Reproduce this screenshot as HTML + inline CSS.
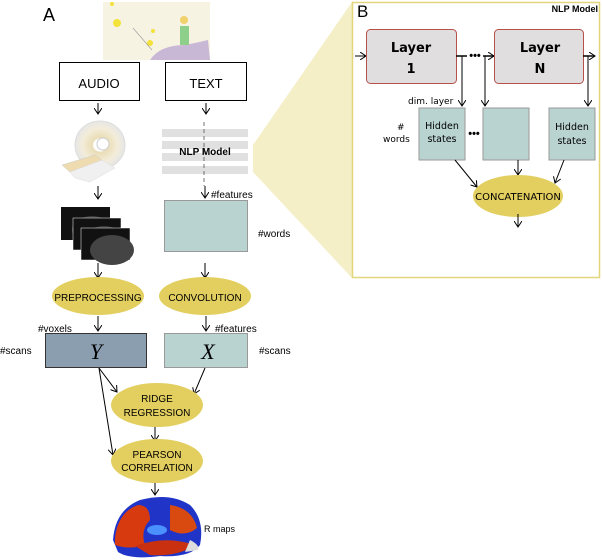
<!DOCTYPE html>
<html><head><meta charset="utf-8"><style>
html,body{margin:0;padding:0;background:#fff;width:602px;height:560px;overflow:hidden}
svg{display:block;font-family:"Liberation Sans",sans-serif}
</style></head><body>
<svg width="602" height="560" viewBox="0 0 602 560" xmlns="http://www.w3.org/2000/svg">
<defs>
<marker id="a" markerWidth="8" markerHeight="8" refX="6" refY="4" orient="auto" markerUnits="userSpaceOnUse">
<path d="M0,0 L6,4 L0,8" fill="none" stroke="#000" stroke-width="1"/></marker>
<radialGradient id="ring" cx="0.5" cy="0.5" r="0.5"><stop offset="0.25" stop-color="#fff"/><stop offset="0.3" stop-color="#e9ddb5"/><stop offset="0.7" stop-color="#f3ecd9"/><stop offset="1" stop-color="#e6e6e6"/></radialGradient>
</defs>
<polygon points="253,145 352,2 352,278 253,172" fill="#f5efc8"/>
<rect x="352.5" y="2.5" width="247" height="275" fill="#fff" stroke="#e3d67a" stroke-width="1.5"/>
<text x="43" y="21" font-size="18">A</text>
<text x="357" y="17" font-size="17">B</text>
<text x="598" y="12" font-size="9" font-weight="bold" text-anchor="end">NLP Model</text>

<rect x="103" y="2" width="107" height="58" fill="#f7f3e3"/>
<path d="M150,60 Q160,45 185,45 Q200,42 208,40 L210,60 Z" fill="#c9b7d6"/>
<rect x="180" y="26" width="9" height="19" fill="#8ed08a"/>
<circle cx="184" cy="20" r="4" fill="#f1d26a"/>
<circle cx="117" cy="23" r="4" fill="#f3e23a"/><circle cx="150" cy="43" r="3" fill="#f3e23a"/>
<circle cx="153" cy="31" r="2" fill="#f3e23a"/><circle cx="112" cy="4" r="2" fill="#f3e23a"/>
<line x1="133" y1="28" x2="152" y2="50" stroke="#999" stroke-width="0.6"/>

<rect x="59.5" y="62.5" width="80" height="38" fill="#fff" stroke="#000"/>
<text x="99" y="88" font-size="13" text-anchor="middle">AUDIO</text>
<rect x="165.5" y="62.5" width="81" height="38" fill="#fff" stroke="#000"/>
<text x="206" y="88" font-size="13" text-anchor="middle">TEXT</text>
<line x1="98" y1="103" x2="98" y2="114" stroke="#000" marker-end="url(#a)"/>
<line x1="206" y1="103" x2="206" y2="114" stroke="#000" marker-end="url(#a)"/>

<ellipse cx="100" cy="145" rx="25" ry="24" fill="url(#ring)" stroke="#ddd"/>
<circle cx="103" cy="144" r="6" fill="#fff" stroke="#ccc"/>
<polygon points="62,165 95,155 102,160 70,172" fill="#eedbb0" stroke="#ccc" stroke-width="0.5"/>
<polygon points="70,172 102,160 115,168 90,182 75,178" fill="#f0f0f0" stroke="#ddd" stroke-width="0.5"/>
<line x1="98" y1="186" x2="98" y2="199" stroke="#000" marker-end="url(#a)"/>

<rect x="61" y="207" width="49" height="33" fill="#111"/>
<ellipse cx="92" cy="230" rx="20" ry="14" fill="#3a3a3a"/>
<rect x="73" y="218" width="48" height="32" fill="#111" stroke="#fff" stroke-width="0.5"/>
<ellipse cx="104" cy="240" rx="20" ry="14" fill="#3a3a3a"/>
<rect x="81" y="228" width="49" height="32" fill="#111" stroke="#fff" stroke-width="0.5"/>
<ellipse cx="112" cy="250" rx="22" ry="15" fill="#444"/>
<line x1="98" y1="263" x2="98" y2="278" stroke="#000" marker-end="url(#a)"/>

<rect x="162" y="129" width="86" height="8" fill="#e0e0e0"/>
<rect x="162" y="141" width="86" height="8" fill="#e0e0e0"/>
<rect x="162" y="153" width="86" height="8" fill="#e0e0e0"/>
<rect x="162" y="166" width="86" height="8" fill="#e0e0e0"/>
<line x1="204" y1="122" x2="204" y2="186" stroke="#555" stroke-dasharray="4,3" stroke-width="0.8"/>
<text x="205" y="155" font-size="10" font-weight="bold" text-anchor="middle">NLP Model</text>
<line x1="205" y1="186" x2="205" y2="198" stroke="#000" marker-end="url(#a)"/>
<text x="211" y="198" font-size="10">#features</text>
<rect x="164.5" y="200.5" width="83" height="51" fill="#b9d3d0" stroke="#999"/>
<text x="258" y="237" font-size="10">#words</text>
<line x1="205" y1="263" x2="205" y2="278" stroke="#000" marker-end="url(#a)"/>

<ellipse cx="98" cy="296" rx="46" ry="19" fill="#e3cf5f"/>
<text x="98" y="301" font-size="10" text-anchor="middle">PREPROCESSING</text>
<ellipse cx="205" cy="296" rx="46" ry="19" fill="#e3cf5f"/>
<text x="205" y="301" font-size="10" text-anchor="middle">CONVOLUTION</text>
<line x1="98" y1="316" x2="98" y2="331" stroke="#000" marker-end="url(#a)"/>
<line x1="206" y1="316" x2="206" y2="331" stroke="#000" marker-end="url(#a)"/>
<text x="38" y="332" font-size="10">#voxels</text>
<text x="215" y="332" font-size="10">#features</text>
<text x="0" y="354" font-size="10">#scans</text>
<text x="259" y="354" font-size="10">#scans</text>
<rect x="45.5" y="333.5" width="101" height="34" fill="#8a9eb0" stroke="#333"/>
<text x="96" y="359" font-size="22" font-style="italic" font-family="Liberation Serif,serif" text-anchor="middle">Y</text>
<rect x="164.5" y="333.5" width="83" height="34" fill="#b9d3d0" stroke="#999"/>
<text x="208" y="359" font-size="22" font-style="italic" font-family="Liberation Serif,serif" text-anchor="middle">X</text>

<line x1="99" y1="368" x2="117" y2="392" stroke="#000" marker-end="url(#a)"/>
<line x1="99" y1="368" x2="113" y2="455" stroke="#000" marker-end="url(#a)"/>
<line x1="205" y1="368" x2="194" y2="394" stroke="#000" marker-end="url(#a)"/>

<ellipse cx="157" cy="405" rx="46" ry="22" fill="#e3cf5f"/>
<text x="157" y="402" font-size="10" text-anchor="middle">RIDGE</text>
<text x="157" y="416" font-size="10" text-anchor="middle">REGRESSION</text>
<line x1="155" y1="427" x2="155" y2="441" stroke="#000" marker-end="url(#a)"/>
<ellipse cx="157" cy="461" rx="46" ry="22" fill="#e3cf5f"/>
<text x="157" y="458" font-size="10" text-anchor="middle">PEARSON</text>
<text x="157" y="471" font-size="10" text-anchor="middle">CORRELATION</text>
<line x1="155" y1="483" x2="155" y2="495" stroke="#000" marker-end="url(#a)"/>

<path d="M113,540 Q115,510 140,500 Q170,492 190,505 Q205,520 200,545 Q190,558 160,556 Q130,560 118,552 Z" fill="#2035c8"/>
<path d="M115,538 Q118,512 138,505 Q150,505 150,520 Q140,530 145,545 Q130,550 115,545 Z" fill="#d83a10"/>
<path d="M170,505 Q192,508 197,528 Q185,538 170,530 Z" fill="#d84a10"/>
<path d="M135,546 Q165,535 195,545 Q178,557 150,555 Z" fill="#c83010"/>
<path d="M190,540 Q200,545 198,550 L185,552 Z" fill="#ddd"/>
<ellipse cx="157" cy="530" rx="10" ry="5" fill="#4a90ff"/>
<text x="204" y="532" font-size="9">R maps</text>

<line x1="355" y1="56" x2="366" y2="56" stroke="#000" marker-end="url(#a)"/>
<rect x="366.5" y="29.5" width="90" height="54" rx="4" fill="#e0dede" stroke="#b5504a"/>
<text x="411" y="52" font-size="13" font-weight="bold" text-anchor="middle" font-family="DejaVu Sans,sans-serif">Layer</text>
<text x="411" y="73" font-size="13" font-weight="bold" text-anchor="middle" font-family="DejaVu Sans,sans-serif">1</text>
<line x1="456" y1="56" x2="467" y2="56" stroke="#000" stroke-width="1.5"/>
<text x="475" y="59" font-size="11" font-weight="bold" text-anchor="middle">•••</text>
<line x1="483" y1="56" x2="494" y2="56" stroke="#000" stroke-width="1.5" marker-end="url(#a)"/>
<rect x="494.5" y="29.5" width="89" height="54" rx="4" fill="#e0dede" stroke="#b5504a"/>
<text x="540" y="52" font-size="13" font-weight="bold" text-anchor="middle" font-family="DejaVu Sans,sans-serif">Layer</text>
<text x="540" y="73" font-size="13" font-weight="bold" text-anchor="middle" font-family="DejaVu Sans,sans-serif">N</text>
<line x1="583" y1="56" x2="595" y2="56" stroke="#000" stroke-width="1.5" marker-end="url(#a)"/>
<line x1="462" y1="56" x2="462" y2="106" stroke="#000" marker-end="url(#a)"/>
<line x1="485" y1="56" x2="485" y2="106" stroke="#000" marker-end="url(#a)"/>
<line x1="588" y1="56" x2="588" y2="106" stroke="#000" marker-end="url(#a)"/>
<text x="408" y="104" font-size="9" font-family="DejaVu Sans,sans-serif">dim. layer</text>
<text x="397" y="130" font-size="9" font-family="DejaVu Sans,sans-serif">#</text>
<text x="383" y="142" font-size="9" font-family="DejaVu Sans,sans-serif">words</text>
<rect x="419" y="108" width="46" height="52" fill="#b9d3d0" stroke="#999"/>
<text x="442" y="129" font-size="9.5" text-anchor="middle" font-family="DejaVu Sans,sans-serif">Hidden</text>
<text x="442" y="142" font-size="9.5" text-anchor="middle" font-family="DejaVu Sans,sans-serif">states</text>
<text x="474" y="137" font-size="11" font-weight="bold" text-anchor="middle">•••</text>
<rect x="483" y="108" width="46" height="52" fill="#b9d3d0" stroke="#999"/>
<rect x="549" y="108" width="46" height="52" fill="#b9d3d0" stroke="#999"/>
<text x="572" y="130" font-size="9.5" text-anchor="middle" font-family="DejaVu Sans,sans-serif">Hidden</text>
<text x="572" y="144" font-size="9.5" text-anchor="middle" font-family="DejaVu Sans,sans-serif">states</text>
<line x1="455" y1="160" x2="477" y2="187" stroke="#000" marker-end="url(#a)"/>
<line x1="518" y1="160" x2="518" y2="175" stroke="#000" marker-end="url(#a)"/>
<line x1="564" y1="160" x2="555" y2="183" stroke="#000" marker-end="url(#a)"/>
<ellipse cx="518" cy="196" rx="45" ry="21" fill="#e3cf5f"/>
<text x="518" y="200" font-size="10" text-anchor="middle" font-family="DejaVu Sans,sans-serif">CONCATENATION</text>
<line x1="518" y1="214" x2="518" y2="227" stroke="#000" marker-end="url(#a)"/>
</svg>
</body></html>
